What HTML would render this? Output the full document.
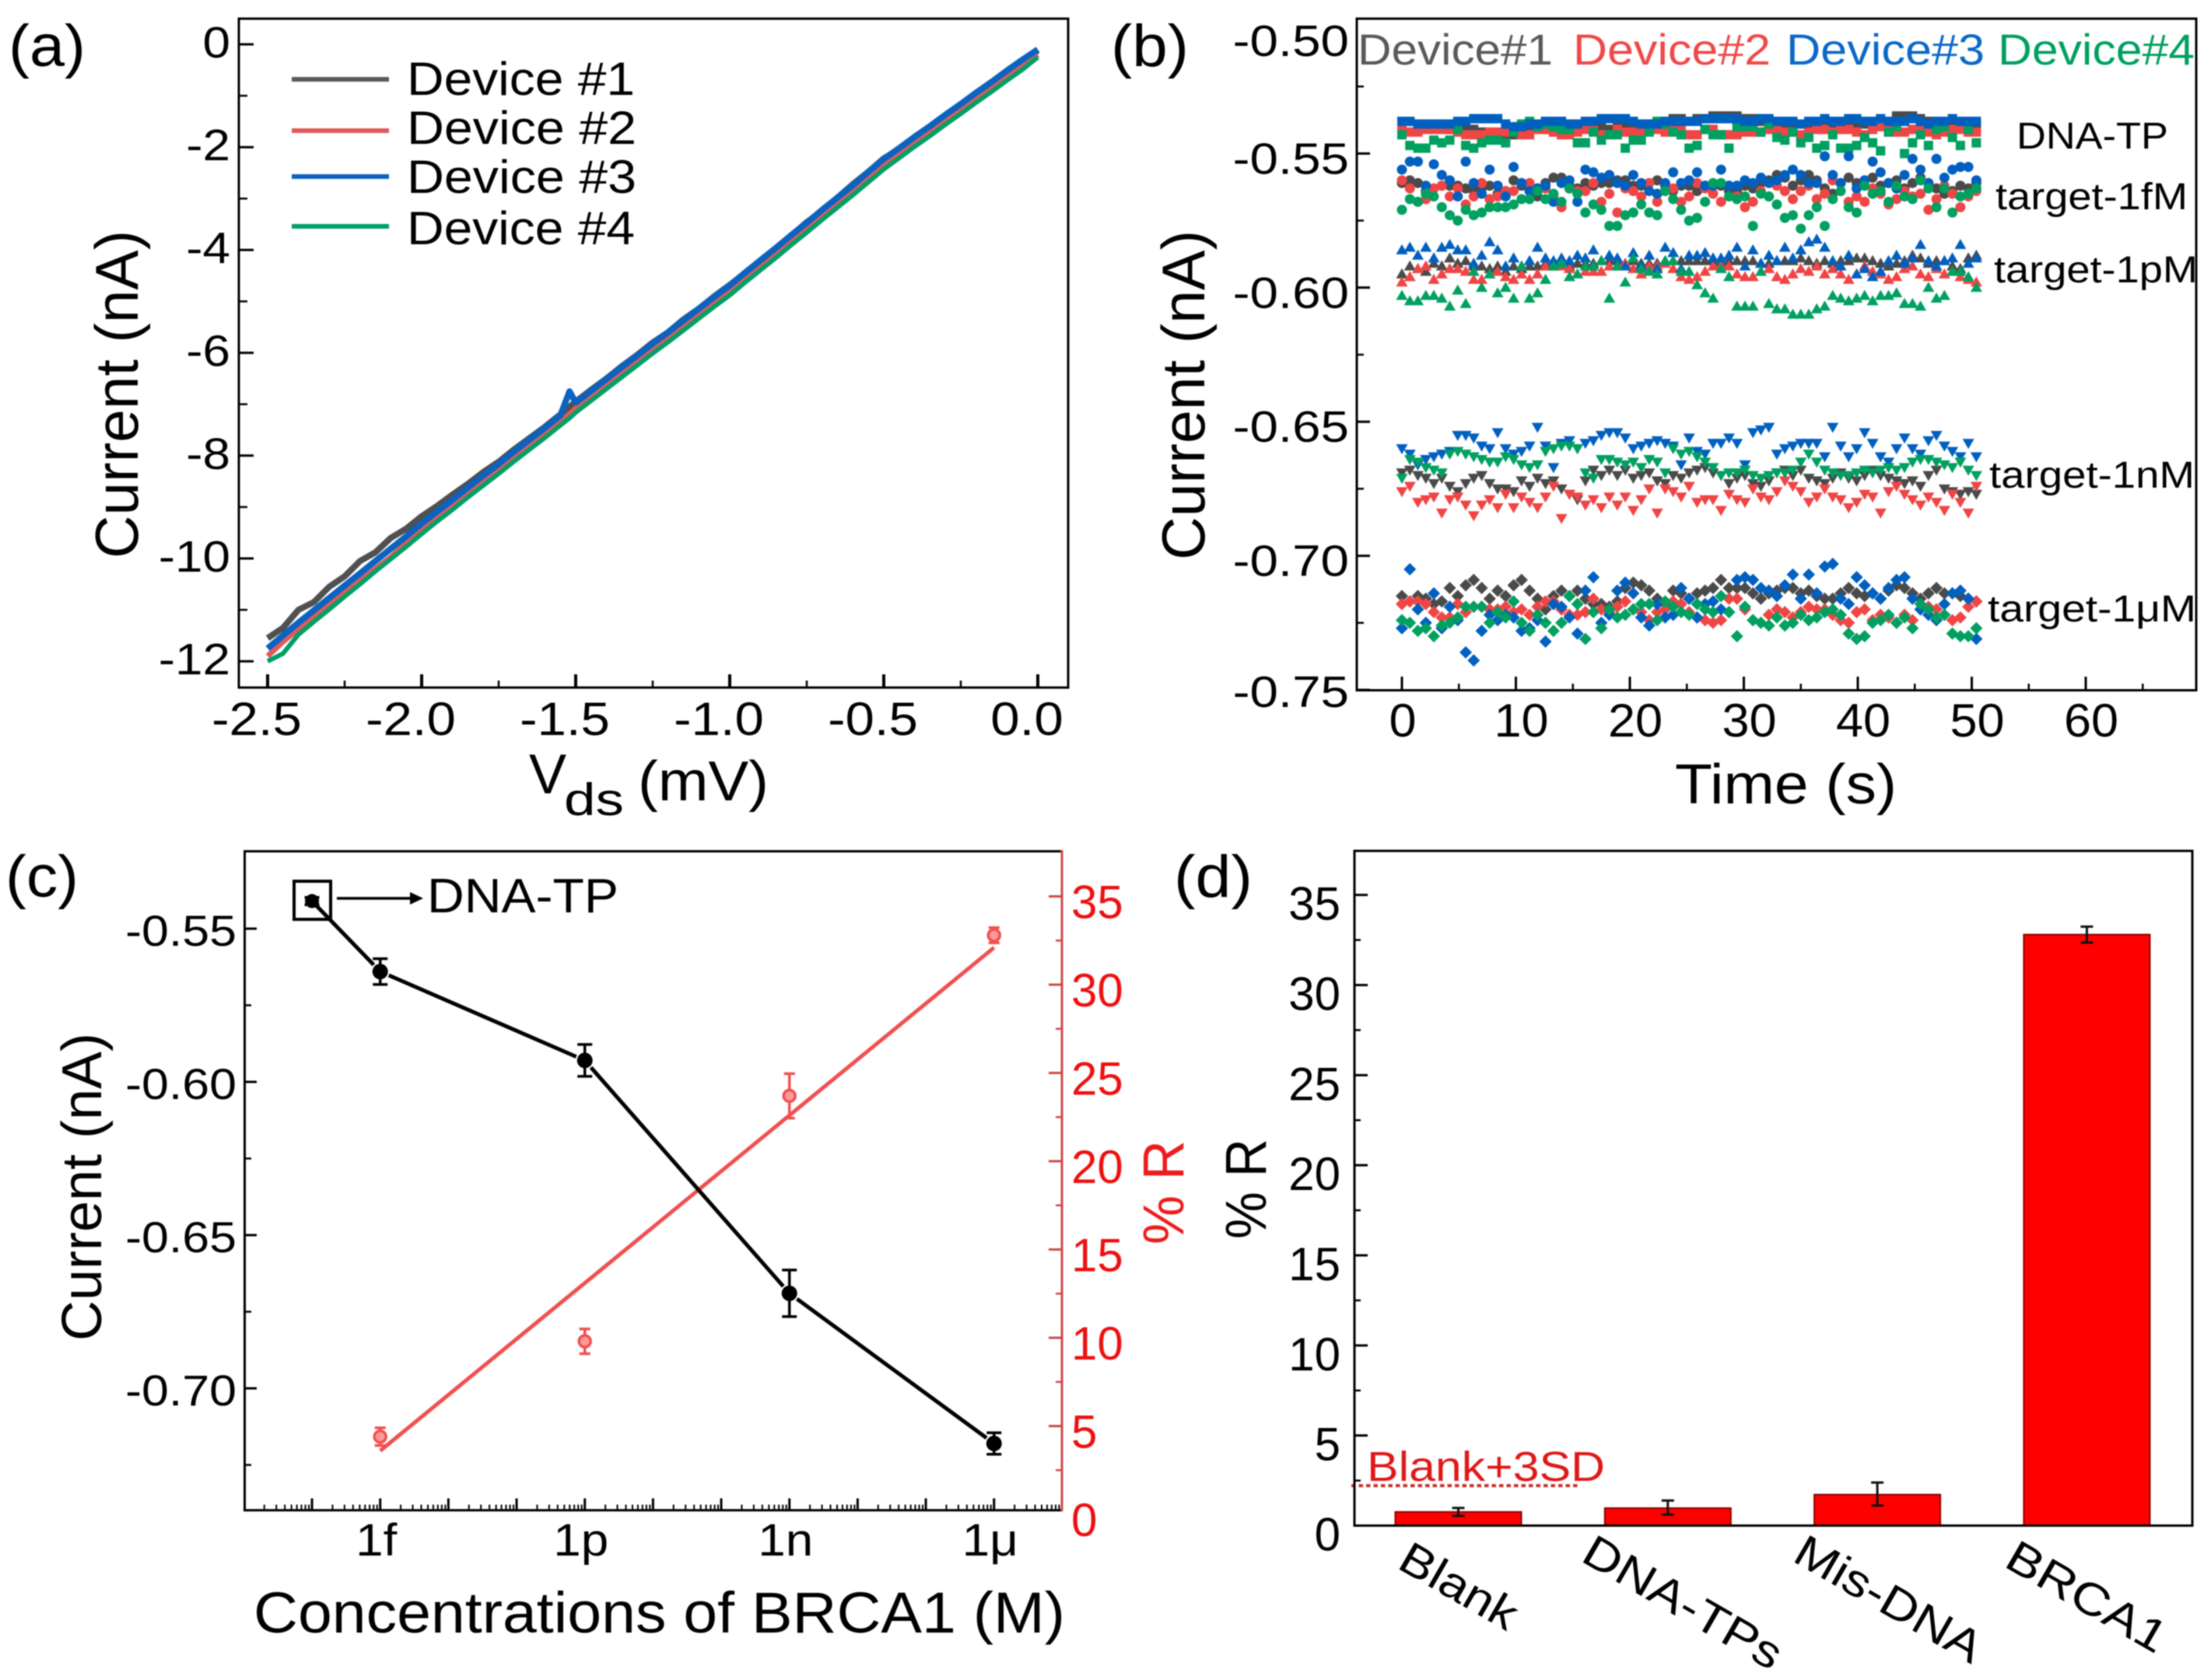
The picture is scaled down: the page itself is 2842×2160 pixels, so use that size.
<!DOCTYPE html>
<html lang="en">
<head>
<meta charset="utf-8">
<title>BRCA1 sensor device figure</title>
<style>
html,body{margin:0;padding:0;background:#fff}
svg{display:block;filter:blur(0.7px)}
text{font-family:"Liberation Sans",sans-serif;fill:#000}
</style>
</head>
<body>
<svg id="figure" xmlns="http://www.w3.org/2000/svg" width="2842" height="2160" viewBox="0 0 2842 2160">
<rect x="0" y="0" width="2842" height="2160" fill="#fff"/>

<!-- static labels -->
<text x="11" y="85" font-size="76" textLength="99" lengthAdjust="spacingAndGlyphs">(a)</text>
<text x="1428" y="85" font-size="76" textLength="100" lengthAdjust="spacingAndGlyphs">(b)</text>
<text x="7" y="1153" font-size="76" textLength="94" lengthAdjust="spacingAndGlyphs">(c)</text>
<text x="1509" y="1153" font-size="76" textLength="101" lengthAdjust="spacingAndGlyphs">(d)</text>

<g>
<text transform="translate(177 718) rotate(-90)" font-size="78" textLength="422" lengthAdjust="spacingAndGlyphs">Current (nA)</text>
<text x="680" y="1020" font-size="72">V</text>
<text x="725" y="1048" font-size="58" textLength="77" lengthAdjust="spacingAndGlyphs">ds</text>
<text x="820" y="1029" font-size="72" textLength="168" lengthAdjust="spacingAndGlyphs">(mV)</text>
</g>
<g>
<line x1="375" y1="102" x2="500" y2="102" stroke="#5a5a5a" stroke-width="6"/>
<line x1="375" y1="168" x2="500" y2="168" stroke="#e05a5a" stroke-width="6"/>
<line x1="375" y1="227" x2="500" y2="227" stroke="#0a63c0" stroke-width="6"/>
<line x1="375" y1="291" x2="500" y2="291" stroke="#00a066" stroke-width="6"/>
<text x="523" y="122" font-size="60" textLength="293" lengthAdjust="spacingAndGlyphs">Device #1</text>
<text x="523" y="185" font-size="60" textLength="295" lengthAdjust="spacingAndGlyphs">Device #2</text>
<text x="523" y="248" font-size="60" textLength="295" lengthAdjust="spacingAndGlyphs">Device #3</text>
<text x="523" y="314" font-size="60" textLength="293" lengthAdjust="spacingAndGlyphs">Device #4</text>
</g>

<g>
<text transform="translate(1548 720) rotate(-90)" font-size="78" textLength="424" lengthAdjust="spacingAndGlyphs">Current (nA)</text>
<text x="2153" y="1033" font-size="72" textLength="285" lengthAdjust="spacingAndGlyphs">Time (s)</text>
</g>
<g>
<text x="1745" y="83" font-size="56" textLength="251" lengthAdjust="spacingAndGlyphs" style="fill:#5a5a5a">Device#1</text>
<text x="2022" y="83" font-size="56" textLength="254" lengthAdjust="spacingAndGlyphs" style="fill:#f04848">Device#2</text>
<text x="2296" y="83" font-size="56" textLength="255" lengthAdjust="spacingAndGlyphs" style="fill:#0a68c8">Device#3</text>
<text x="2568" y="83" font-size="56" textLength="253" lengthAdjust="spacingAndGlyphs" style="fill:#00a060">Device#4</text>
</g>
<g>
<text x="2592" y="191" font-size="48" textLength="195" lengthAdjust="spacingAndGlyphs">DNA-TP</text>
<text x="2565" y="269" font-size="48" textLength="247" lengthAdjust="spacingAndGlyphs">target-1fM</text>
<text x="2563" y="363" font-size="48" textLength="262" lengthAdjust="spacingAndGlyphs">target-1pM</text>
<text x="2557" y="627" font-size="48" textLength="264" lengthAdjust="spacingAndGlyphs">target-1nM</text>
<text x="2555" y="799" font-size="48" textLength="268" lengthAdjust="spacingAndGlyphs">target-1μM</text>
</g>

<g>
<text transform="translate(130 1724) rotate(-90)" font-size="72" textLength="396" lengthAdjust="spacingAndGlyphs">Current (nA)</text>
<text x="326" y="2099" font-size="74" textLength="1043" lengthAdjust="spacingAndGlyphs">Concentrations of BRCA1 (M)</text>
<text transform="translate(1521 1600) rotate(-90)" font-size="74" textLength="134" lengthAdjust="spacingAndGlyphs" style="fill:#ee1c1c">% R</text>
<rect x="378" y="1133" width="47" height="49" fill="none" stroke="#000" stroke-width="4"/>
<line x1="433" y1="1155" x2="530" y2="1155" stroke="#000" stroke-width="3.5"/>
<polygon points="527,1147 544,1155 527,1163" fill="#000"/>
<text x="549" y="1173" font-size="62" textLength="246" lengthAdjust="spacingAndGlyphs">DNA-TP</text>
</g>

<g>
<text transform="translate(1627 1593) rotate(-90)" font-size="74" textLength="129" lengthAdjust="spacingAndGlyphs">% R</text>
<text transform="translate(1794 2015) rotate(30)" font-size="58" textLength="165" lengthAdjust="spacingAndGlyphs">Blank</text>
<text transform="translate(2030 2006) rotate(30)" font-size="58" textLength="285" lengthAdjust="spacingAndGlyphs">DNA-TPs</text>
<text transform="translate(2302 2006) rotate(30)" font-size="58" textLength="268" lengthAdjust="spacingAndGlyphs">Mis-DNA</text>
<text transform="translate(2574 2013) rotate(30)" font-size="58" textLength="228" lengthAdjust="spacingAndGlyphs">BRCA1</text>
<text x="1757" y="1904" font-size="54" textLength="306" lengthAdjust="spacingAndGlyphs" style="fill:#e01818">Blank+3SD</text>
</g>
</svg>

<script>
/* ---------- panel (a) data: Vds (mV) and current (nA) ---------- */
const vds = [-2.5,-2.45,-2.4,-2.35,-2.3,-2.25,-2.2,-2.15,-2.1,-2.05,-2,-1.95,-1.9,-1.85,-1.8,-1.75,-1.7,-1.65,-1.6,-1.55,-1.52,-1.5,-1.45,-1.4,-1.35,-1.3,-1.25,-1.2,-1.15,-1.1,-1.05,-1,-0.95,-0.9,-0.85,-0.8,-0.75,-0.7,-0.65,-0.6,-0.55,-0.5,-0.45,-0.4,-0.35,-0.3,-0.25,-0.2,-0.15,-0.1,-0.05,0];
const ivDevice1 = [-11.55,-11.35,-11.0,-10.85,-10.55,-10.35,-10.05,-9.88,-9.6,-9.42,-9.18,-8.98,-8.76,-8.55,-8.32,-8.12,-7.88,-7.66,-7.44,-7.2,-7.05,-6.95,-6.72,-6.5,-6.26,-6.04,-5.8,-5.6,-5.35,-5.14,-4.9,-4.68,-4.45,-4.2,-3.96,-3.72,-3.46,-3.24,-2.98,-2.72,-2.48,-2.22,-2.04,-1.8,-1.6,-1.38,-1.18,-0.96,-0.76,-0.54,-0.33,-0.12];
const ivDevice2 = [-11.9,-11.62,-11.37,-11.13,-10.9,-10.66,-10.43,-10.2,-9.97,-9.7,-9.44,-9.2,-8.98,-8.74,-8.5,-8.28,-8.04,-7.8,-7.58,-7.33,-7.2,-7.08,-6.85,-6.62,-6.4,-6.16,-5.93,-5.7,-5.48,-5.25,-5.02,-4.8,-4.55,-4.3,-4.07,-3.82,-3.58,-3.33,-3.09,-2.85,-2.6,-2.35,-2.13,-1.9,-1.7,-1.48,-1.27,-1.05,-0.84,-0.62,-0.41,-0.2];
const ivDevice3 = [-11.75,-11.5,-11.25,-11.01,-10.77,-10.53,-10.29,-10.05,-9.81,-9.57,-9.32,-9.09,-8.86,-8.62,-8.39,-8.16,-7.92,-7.69,-7.46,-7.22,-6.75,-6.97,-6.74,-6.51,-6.28,-6.05,-5.82,-5.6,-5.37,-5.14,-4.91,-4.69,-4.44,-4.2,-3.96,-3.71,-3.47,-3.22,-2.98,-2.74,-2.48,-2.23,-2.02,-1.8,-1.59,-1.37,-1.16,-0.94,-0.73,-0.51,-0.3,-0.1];
const ivDevice4 = [-12,-11.85,-11.48,-11.23,-10.99,-10.74,-10.5,-10.25,-10.01,-9.77,-9.52,-9.28,-9.05,-8.81,-8.58,-8.35,-8.11,-7.88,-7.65,-7.41,-7.27,-7.16,-6.93,-6.7,-6.47,-6.24,-6.01,-5.79,-5.56,-5.33,-5.1,-4.88,-4.63,-4.39,-4.15,-3.9,-3.66,-3.41,-3.17,-2.93,-2.68,-2.43,-2.21,-1.99,-1.78,-1.56,-1.35,-1.13,-0.92,-0.7,-0.49,-0.25];
const aXTicks = ["-2.5","-2.0","-1.5","-1.0","-0.5","0.0"];
const aYTicks = ["0","-2","-4","-6","-8","-10","-12"];

/* ---------- panel (b) data: current in pA, one reading every 0.7 s ---------- */
const sampleInterval = 0.7;
const tpDevice1 = [-538,-538,-539,-539,-540,-540,-541,-540,-541,-541,-542,-543,-544,-544,-543,-541,-540,-540,-541,-541,-540,-539,-539,-539,-539,-540,-541,-540,-540,-539,-539,-539,-538,-538,-537,-537,-538,-537,-537,-536,-536,-536,-536,-537,-537,-538,-538,-539,-539,-539,-539,-540,-539,-539,-539,-538,-538,-539,-539,-539,-538,-538,-536,-536,-536,-537,-538,-539,-539,-538,-539,-539,-539];
const tpDevice2 = [-541,-542,-542,-541,-541,-541,-541,-542,-543,-543,-543,-542,-542,-542,-542,-543,-543,-541,-541,-542,-543,-543,-542,-541,-541,-543,-543,-541,-542,-542,-542,-541,-541,-542,-541,-541,-543,-543,-541,-541,-543,-543,-543,-542,-542,-542,-541,-541,-542,-542,-543,-542,-541,-541,-542,-541,-541,-542,-543,-541,-540,-541,-542,-542,-541,-541,-542,-543,-542,-541,-541,-542,-542];
const tpDevice3 = [-538,-538,-539,-539,-539,-539,-539,-538,-538,-537,-537,-537,-537,-539,-540,-540,-539,-539,-538,-538,-538,-539,-539,-538,-538,-537,-537,-537,-537,-538,-539,-539,-539,-538,-538,-538,-538,-538,-537,-537,-537,-537,-537,-538,-538,-537,-537,-538,-538,-538,-539,-538,-538,-537,-538,-538,-537,-537,-538,-538,-537,-538,-538,-538,-537,-538,-539,-538,-538,-537,-538,-538,-538];
const tpDevice4 = [-543,-547,-548,-548,-545,-546,-545,-541,-547,-548,-546,-545,-545,-546,-542,-539,-538,-540,-539,-540,-541,-541,-546,-546,-542,-545,-543,-543,-548,-545,-545,-542,-538,-539,-542,-543,-548,-547,-541,-543,-543,-548,-540,-540,-540,-542,-539,-544,-545,-542,-546,-544,-548,-547,-543,-548,-548,-547,-544,-546,-549,-542,-540,-550,-546,-543,-547,-541,-540,-544,-547,-541,-546];

const fmDevice1 = [-561,-560,-561,-564,-563,-562,-562,-562,-563,-564,-563,-562,-565,-564,-560,-562,-564,-566,-561,-559,-559,-562,-563,-561,-562,-561,-561,-560,-560,-562,-562,-561,-560,-562,-564,-562,-562,-564,-562,-562,-562,-564,-564,-562,-563,-561,-560,-558,-559,-562,-560,-558,-560,-563,-565,-561,-559,-561,-560,-559,-562,-561,-560,-563,-561,-559,-561,-563,-565,-564,-562,-563,-561];
const fmDevice2 = [-560,-563,-568,-567,-563,-562,-566,-563,-569,-566,-561,-567,-566,-564,-564,-561,-561,-563,-563,-566,-570,-563,-564,-564,-561,-568,-565,-572,-563,-564,-566,-561,-568,-564,-563,-568,-566,-561,-563,-565,-568,-562,-566,-570,-568,-564,-566,-562,-564,-567,-564,-562,-567,-565,-560,-564,-568,-566,-568,-563,-565,-569,-567,-564,-566,-565,-571,-567,-562,-565,-570,-566,-564];
const fmDevice3 = [-556,-553,-553,-562,-554,-558,-560,-566,-553,-561,-565,-556,-562,-566,-555,-561,-564,-563,-562,-568,-561,-560,-568,-556,-557,-559,-558,-561,-562,-558,-561,-564,-565,-561,-557,-561,-560,-557,-562,-562,-556,-562,-562,-560,-561,-559,-561,-560,-558,-556,-558,-561,-561,-551,-558,-561,-551,-563,-560,-553,-557,-561,-563,-558,-552,-556,-561,-552,-559,-556,-555,-555,-560];
const fmDevice4 = [-571,-567,-568,-565,-566,-570,-573,-575,-571,-573,-572,-570,-570,-570,-569,-567,-567,-564,-567,-565,-568,-563,-565,-572,-569,-571,-577,-577,-573,-572,-569,-572,-573,-564,-567,-571,-575,-574,-568,-561,-561,-566,-567,-566,-577,-565,-566,-569,-574,-573,-578,-573,-570,-577,-567,-564,-570,-572,-562,-565,-564,-568,-562,-566,-567,-560,-563,-570,-563,-572,-566,-565,-563];

const pmDevice1 = [-595,-592,-593,-594,-591,-592,-589,-591,-590,-592,-592,-593,-592,-594,-592,-593,-592,-592,-591,-592,-591,-592,-591,-591,-591,-590,-590,-590,-591,-590,-591,-591,-591,-590,-590,-590,-590,-590,-590,-590,-591,-590,-590,-590,-590,-591,-591,-590,-590,-590,-589,-590,-591,-590,-591,-590,-590,-589,-589,-590,-591,-592,-591,-590,-588,-589,-591,-590,-590,-592,-593,-589,-588];
const pmDevice2 = [-598,-596,-593,-592,-597,-595,-593,-593,-594,-597,-597,-595,-594,-596,-597,-595,-597,-595,-592,-592,-592,-593,-595,-594,-594,-594,-592,-592,-591,-593,-595,-592,-592,-591,-593,-596,-597,-596,-594,-592,-592,-592,-595,-596,-596,-594,-593,-596,-597,-595,-593,-594,-592,-595,-593,-595,-597,-595,-592,-594,-595,-597,-596,-593,-592,-595,-596,-593,-595,-594,-596,-597,-598];
const pmDevice3 = [-586,-585,-588,-585,-589,-585,-584,-586,-586,-591,-588,-583,-586,-592,-589,-592,-590,-585,-589,-590,-589,-590,-588,-589,-586,-590,-588,-589,-592,-587,-592,-588,-593,-585,-587,-593,-588,-588,-587,-589,-589,-588,-585,-592,-586,-591,-588,-590,-585,-589,-586,-583,-582,-585,-590,-592,-588,-595,-593,-596,-594,-590,-588,-591,-589,-584,-590,-592,-590,-589,-584,-591,-589];
const pmDevice4 = [-603,-605,-605,-603,-603,-604,-607,-601,-606,-594,-600,-595,-602,-600,-604,-592,-604,-602,-597,-592,-591,-596,-595,-592,-592,-590,-604,-592,-598,-589,-593,-594,-595,-590,-590,-594,-594,-599,-602,-604,-593,-596,-607,-607,-607,-594,-606,-608,-608,-610,-610,-610,-608,-607,-603,-604,-605,-604,-603,-605,-603,-603,-602,-606,-606,-607,-600,-604,-603,-594,-594,-596,-600];

const nmDevice1 = [-669,-668,-670,-671,-673,-671,-674,-676,-673,-671,-670,-673,-675,-675,-676,-672,-674,-671,-673,-672,-675,-677,-679,-672,-668,-670,-668,-670,-668,-671,-670,-669,-672,-673,-670,-671,-669,-668,-667,-669,-670,-673,-671,-670,-673,-674,-672,-669,-668,-670,-668,-671,-672,-673,-671,-669,-671,-672,-670,-668,-670,-671,-672,-673,-672,-674,-670,-668,-675,-676,-677,-676,-677];
const nmDevice2 = [-676,-674,-680,-679,-678,-684,-679,-678,-681,-685,-681,-679,-682,-677,-682,-678,-680,-682,-678,-674,-686,-677,-678,-681,-679,-682,-678,-681,-678,-683,-679,-675,-684,-675,-676,-678,-674,-680,-679,-679,-683,-677,-679,-680,-675,-678,-679,-676,-672,-674,-676,-680,-678,-675,-678,-679,-682,-680,-677,-678,-684,-676,-674,-677,-679,-681,-678,-680,-683,-677,-680,-684,-674];
const nmDevice3 = [-660,-662,-666,-664,-663,-662,-661,-655,-655,-656,-659,-660,-654,-660,-662,-661,-659,-652,-659,-667,-658,-657,-660,-658,-657,-655,-654,-654,-656,-660,-659,-658,-657,-658,-659,-666,-656,-661,-662,-658,-658,-656,-658,-666,-654,-653,-652,-662,-660,-659,-658,-658,-658,-663,-652,-659,-663,-660,-654,-658,-663,-665,-660,-656,-660,-662,-657,-655,-659,-661,-663,-658,-663];
const nmDevice4 = [-671,-664,-665,-667,-668,-669,-662,-661,-662,-663,-664,-665,-665,-663,-664,-666,-667,-666,-661,-660,-659,-659,-660,-669,-671,-664,-664,-665,-666,-665,-667,-664,-665,-669,-660,-662,-661,-663,-665,-667,-670,-669,-669,-668,-670,-671,-670,-669,-669,-668,-665,-662,-665,-668,-669,-670,-670,-669,-668,-669,-668,-667,-668,-667,-665,-664,-664,-665,-666,-667,-665,-668,-670];

const umDevice1 = [-715,-717,-715,-716,-718,-717,-712,-715,-711,-709,-712,-716,-713,-715,-711,-709,-713,-716,-720,-715,-713,-715,-713,-716,-718,-718,-719,-717,-712,-710,-711,-713,-716,-718,-713,-714,-716,-714,-713,-712,-709,-712,-712,-712,-714,-716,-714,-713,-712,-712,-714,-713,-715,-716,-716,-714,-712,-714,-715,-714,-716,-713,-711,-712,-714,-716,-714,-712,-714,-714,-715,-716,-717];
const umDevice2 = [-718,-717,-717,-718,-721,-723,-723,-718,-721,-719,-719,-720,-720,-719,-721,-720,-722,-719,-717,-717,-720,-722,-722,-721,-716,-720,-721,-719,-717,-720,-721,-724,-721,-720,-717,-718,-721,-723,-724,-725,-724,-716,-716,-720,-724,-725,-722,-720,-721,-723,-721,-719,-720,-720,-722,-724,-725,-721,-720,-724,-722,-723,-725,-722,-724,-720,-719,-720,-722,-724,-723,-719,-717];
const umDevice3 = [-727,-705,-720,-725,-714,-727,-719,-724,-736,-739,-728,-722,-724,-722,-723,-728,-727,-724,-732,-718,-719,-723,-729,-713,-708,-725,-722,-713,-710,-714,-723,-726,-718,-723,-722,-712,-716,-723,-718,-717,-720,-721,-709,-708,-709,-712,-713,-715,-711,-707,-716,-707,-714,-704,-703,-716,-718,-708,-711,-714,-716,-712,-709,-708,-716,-720,-722,-724,-718,-714,-713,-716,-731];
const umDevice4 = [-724,-725,-728,-727,-730,-726,-725,-723,-719,-719,-719,-725,-721,-723,-717,-725,-728,-722,-725,-728,-725,-715,-718,-731,-721,-727,-720,-723,-722,-720,-718,-718,-724,-717,-719,-721,-722,-718,-720,-721,-715,-721,-730,-719,-724,-725,-726,-723,-726,-725,-722,-724,-723,-721,-720,-722,-729,-731,-730,-725,-724,-722,-725,-723,-727,-718,-720,-723,-722,-729,-730,-730,-727];

const bXTicks = ["0","10","20","30","40","50","60"];
const bYTicks = ["-0.50","-0.55","-0.60","-0.65","-0.70","-0.75"];

/* ---------- panel (c) data ---------- */
const concentrationExponents = [-16,-15,-12,-9,-6];
const currentMeans = [-0.541,-0.564,-0.593,-0.669,-0.718];
const currentErrors = [0.0012,0.0042,0.0052,0.0076,0.0035];
const responseExponents = [-15,-12,-9,-6];
const responseMeans = [4.4,9.8,23.7,32.8];
const responseErrors = [0.5,0.7,1.26,0.43];
const responseFitExponents = [-15,-6];
const responseFitValues = [3.6,32.1];
const cXTicks = ["1f","1p","1n","1μ"];
const cXTickExponents = [-15,-12,-9,-6];
const cYTicks = ["-0.55","-0.60","-0.65","-0.70"];
const cRightTicks = ["0","5","10","15","20","25","30","35"];

/* ---------- panel (d) data ---------- */
const dCategories = ["Blank","DNA-TPs","Mis-DNA","BRCA1"];
const dValues = [0.76,0.97,1.72,32.8];
const dErrors = [0.22,0.39,0.64,0.44];
const dErrorCentres = [0.76,1.0,1.75,32.8];
const blankPlus3sd = [2.22];
const dYTicks = ["0","5","10","15","20","25","30","35"];

/* ---------- axis functions ---------- */
const ax = v => 1334 + v * 396;
const ay = i => 57 - i * 66.1;
const bx = t => 1802 + t * 14.65;
const by = pA => 25 + (-500 - pA) * 3.448;
const cx = e => 488.7 + (e + 15) * 87.67;
const cy = i => 1194 + (-0.55 - i) * 3940;
const cr = r => 1947 - r * 22.7;
const dx = k => 1874.5 + k * 269.3;
const dy = r => 1961.5 - r * 23.167;

const svg = document.getElementById('figure');
const NS = 'http://www.w3.org/2000/svg';

function add(parent, tag, attrs, name) {
  const el = document.createElementNS(NS, tag);
  for (const k in attrs) el.setAttribute(k, attrs[k]);
  
  
  parent.appendChild(el);
  return el;
}
function group(name) {
  return add(svg, 'g', {}, name);
}
function seg(parent, x1, y1, x2, y2, color, w, name) {
  return add(parent, 'line', {x1: x1, y1: y1, x2: x2, y2: y2, stroke: color, 'stroke-width': w}, name);
}
function label(parent, x, y, str, size, anchor, sx, color, name) {
  const el = add(parent, 'text', {transform: 'translate(' + x + ' ' + y + ') scale(' + sx + ' 1)', 'font-size': size, 'text-anchor': anchor, style: 'fill:' + color}, name);
  el.textContent = str;
  return el;
}

/* ---------- panel (a) ---------- */
(function () {
  const g = group('panel-a');
  const series = [[ivDevice1, '#505050', 8, 'iv-curve-device-1'], [ivDevice2, '#e05a5a', 7, 'iv-curve-device-2'], [ivDevice3, '#0a63c0', 8, 'iv-curve-device-3'], [ivDevice4, '#00a066', 6, 'iv-curve-device-4']];
  series.forEach(s => {
    const pts = vds.map((v, i) => ax(v).toFixed(1) + ',' + ay(s[0][i]).toFixed(1)).join(' ');
    add(g, 'polyline', {points: pts, fill: 'none', stroke: s[1], 'stroke-width': s[2], 'stroke-linejoin': 'round'}, s[3]);
  });
  add(g, 'rect', {x: 307, y: 24, width: 1066, height: 860, fill: 'none', stroke: '#000', 'stroke-width': 3}, 'panel-a-frame');
  aXTicks.forEach(t => {
    const v = parseFloat(t);
    seg(g, ax(v), 884, ax(v), 867, '#000', 4, 'panel-a-x-tick');
    if (v < 0) seg(g, ax(v + 0.25), 884, ax(v + 0.25), 875, '#000', 2.5, 'panel-a-x-minor-tick');
    label(g, ax(v) - 14, 945, t, 60, 'middle', 1.12, '#000', 'panel-a-x-tick-label');
  });
  aYTicks.forEach(t => {
    const v = parseFloat(t);
    seg(g, 307, ay(v), 326, ay(v), '#000', 3, 'panel-a-y-tick');
    if (v > -12) seg(g, 307, ay(v - 1), 318, ay(v - 1), '#000', 2.5, 'panel-a-y-minor-tick');
    label(g, 296, ay(v) + 17, t, 57, 'end', 1.12, '#000', 'panel-a-y-tick-label');
  });
})();

/* ---------- panel (b) ---------- */
(function () {
  const g = group('panel-b');
  const colors = ['#4a4a4a', '#f04545', '#0060c0', '#00a060'];
  function marker(kind, x, y, color, parent, name) {
    if (kind === 'square') return add(parent, 'rect', {x: x - 6, y: y - 6, width: 12, height: 12, fill: color}, name);
    if (kind === 'circle') return add(parent, 'circle', {cx: x, cy: y, r: 6.5, fill: color}, name);
    const p = kind === 'up' ? [[x, y - 7.5], [x + 7.5, y + 5.5], [x - 7.5, y + 5.5]]
      : kind === 'down' ? [[x, y + 7.5], [x + 7.5, y - 5.5], [x - 7.5, y - 5.5]]
      : [[x, y - 8], [x + 8, y], [x, y + 8], [x - 8, y]];
    return add(parent, 'polygon', {points: p.join(' '), fill: color}, name);
  }
  const sets = [
    ['square', 'dna-tp', [tpDevice1, tpDevice2, tpDevice4, tpDevice3], [0, 1, 3, 2]],
    ['circle', 'target-1fm', [fmDevice1, fmDevice2, fmDevice3, fmDevice4], [0, 1, 2, 3]],
    ['up', 'target-1pm', [pmDevice1, pmDevice2, pmDevice3, pmDevice4], [0, 1, 2, 3]],
    ['down', 'target-1nm', [nmDevice1, nmDevice2, nmDevice3, nmDevice4], [0, 1, 2, 3]],
    ['diamond', 'target-1um', [umDevice1, umDevice2, umDevice3, umDevice4], [0, 1, 2, 3]]
  ];
  sets.forEach(set => {
    set[2].forEach((arr, d) => {
      const color = colors[set[3][d]];
      arr.forEach((v, i) => {
        marker(set[0], bx(i * sampleInterval), by(v), color, g, 'point-' + set[1]);
      });
    });
  });
  add(g, 'rect', {x: 1744, y: 24, width: 1079, height: 863.5, fill: 'none', stroke: '#000', 'stroke-width': 3}, 'panel-b-frame');
  bXTicks.forEach(t => {
    const v = parseFloat(t);
    seg(g, bx(v), 887.5, bx(v), 870, '#000', 3, 'panel-b-x-tick');
    seg(g, bx(v + 5), 887.5, bx(v + 5), 879, '#000', 2.5, 'panel-b-x-minor-tick');
    label(g, bx(v) + (v === 0 ? 1 : 7), 947, t, 60, 'middle', 1.05, '#000', 'panel-b-x-tick-label');
  });
  bYTicks.forEach(t => {
    const v = parseFloat(t) * 1000;
    if (v < -500) seg(g, 1744, by(v), 1761, by(v), '#000', 3, 'panel-b-y-tick');
    if (v > -750) seg(g, 1744, by(v - 25), 1753, by(v - 25), '#000', 2.5, 'panel-b-y-minor-tick');
    const off = v === -500 ? 47 : v === -750 ? 22 : 26;
    label(g, 1734, by(v) + off, t, 57, 'end', 1.15, '#000', 'panel-b-y-tick-label');
  });
})();

/* ---------- panel (c) ---------- */
(function () {
  const g = group('panel-c');
  const red = '#f05050';
  seg(g, cx(responseFitExponents[0]), cr(responseFitValues[0]), cx(responseFitExponents[1]), cr(responseFitValues[1]), red, 5, 'response-fit-line');
  responseExponents.forEach((e, i) => {
    const x = cx(e), y = cr(responseMeans[i]), d = responseErrors[i] * 22.7;
    seg(g, x, y - d, x, y + d, red, 3.5, 'response-error-bar');
    seg(g, x - 7, y - d, x + 7, y - d, red, 3.5, 'response-error-cap');
    seg(g, x - 7, y + d, x + 7, y + d, red, 3.5, 'response-error-cap');
    add(g, 'circle', {cx: x, cy: y, r: 7.5, fill: '#f99', stroke: red, 'stroke-width': 3.5}, 'response-point');
  });
  const gap = 12;
  concentrationExponents.forEach((e, i) => {
    const x = cx(e), y = cy(currentMeans[i]), d = currentErrors[i] * 3940;
    if (i > 0) {
      const x0 = cx(concentrationExponents[i - 1]), y0 = cy(currentMeans[i - 1]);
      const len = Math.hypot(x - x0, y - y0), ux = (x - x0) / len, uy = (y - y0) / len;
      seg(g, x0 + ux * (i === 1 ? 2 : gap), y0 + uy * (i === 1 ? 2 : gap), x - ux * gap, y - uy * gap, '#000', 5, 'current-line-segment');
    }
    seg(g, x, y - d, x, y + d, '#000', 3.5, 'current-error-bar');
    seg(g, x - 9.5, y - d, x + 9.5, y - d, '#000', 3.5, 'current-error-cap');
    seg(g, x - 9.5, y + d, x + 9.5, y + d, '#000', 3.5, 'current-error-cap');
    add(g, 'circle', {cx: x, cy: y, r: i === 0 ? 9 : 10, fill: '#000'}, 'current-point');
  });
  seg(g, 314, 1094.5, 1365, 1094.5, '#000', 3, 'panel-c-top-spine');
  seg(g, 314.5, 1093, 314.5, 1943, '#000', 3, 'panel-c-left-spine');
  seg(g, 313, 1941.7, 1365, 1941.7, '#000', 3, 'panel-c-bottom-spine');
  seg(g, 1365, 1093, 1365, 1943, '#d04848', 3, 'panel-c-right-spine');
  for (let e = -17; e < -5; e++) {
    if (e > -17) seg(g, cx(e), 1941.7, cx(e), 1926.5, '#000', 3, 'panel-c-x-decade-tick');
    for (let m = 2; m < 10; m++) {
      const x = cx(e + Math.log10(m));
      seg(g, x, 1941.7, x, 1934.5, '#000', 2, 'panel-c-x-minor-tick');
    }
  }
  cXTicks.forEach((t, i) => label(g, cx(cXTickExponents[i]) - 5, 2000, t, 58, 'middle', 1.1, '#000', 'panel-c-x-tick-label'));
  cYTicks.forEach(t => {
    const v = parseFloat(t);
    seg(g, 314, cy(v), 330, cy(v), '#000', 3, 'panel-c-y-tick');
    seg(g, 314, cy(v - 0.025), 323, cy(v - 0.025), '#000', 2.5, 'panel-c-y-minor-tick');
    label(g, 304, cy(v) + 22, t, 56, 'end', 1.12, '#000', 'panel-c-y-tick-label');
  });
  cRightTicks.forEach(t => {
    const v = parseFloat(t);
    if (v > 0) {
      seg(g, 1348, cr(v), 1365, cr(v), '#d04848', 3, 'panel-c-right-tick');
      seg(g, 1357, cr(v - 2.5), 1365, cr(v - 2.5), '#d04848', 2.5, 'panel-c-right-minor-tick');
    }
    label(g, 1377, cr(v) + 28, t, 60, 'start', 1, '#ee1010', 'panel-c-right-tick-label');
  });
})();

/* ---------- panel (d) ---------- */
(function () {
  const g = group('panel-d');
  dCategories.forEach((c, i) => {
    const x = dx(i), top = dy(dValues[i]);
    add(g, 'rect', {x: x - 81, y: top, width: 162, height: 1961.5 - top, fill: '#ff0000', stroke: '#8a0000', 'stroke-width': 2}, 'bar-' + c.toLowerCase());
    const yc = dy(dErrorCentres[i]), d = dErrors[i] * 23.167;
    seg(g, x, yc - d, x, yc + d, '#111', 3, 'bar-error-line');
    seg(g, x - 8, yc - d, x + 8, yc - d, '#111', 3, 'bar-error-cap');
    seg(g, x - 8, yc + d, x + 8, yc + d, '#111', 3, 'bar-error-cap');
  });
  add(g, 'line', {x1: 1737, y1: dy(blankPlus3sd[0]), x2: 2029, y2: dy(blankPlus3sd[0]), stroke: '#c83030', 'stroke-width': 4, 'stroke-dasharray': '5.5 4'}, 'blank-3sd-line');
  add(g, 'rect', {x: 1741, y: 1094, width: 1077, height: 867.5, fill: 'none', stroke: '#000', 'stroke-width': 3}, 'panel-d-frame');
  dYTicks.forEach(t => {
    const v = parseFloat(t);
    seg(g, 1741, dy(v), 1758, dy(v), '#000', 3, 'panel-d-y-tick');
    if (v < 35) seg(g, 1741, dy(v + 2.5), 1749, dy(v + 2.5), '#000', 2.5, 'panel-d-y-minor-tick');
    label(g, 1723, dy(v) + 32, t, 60, 'end', 1, '#000', 'panel-d-y-tick-label');
  });
})();
</script>
</body>
</html>
